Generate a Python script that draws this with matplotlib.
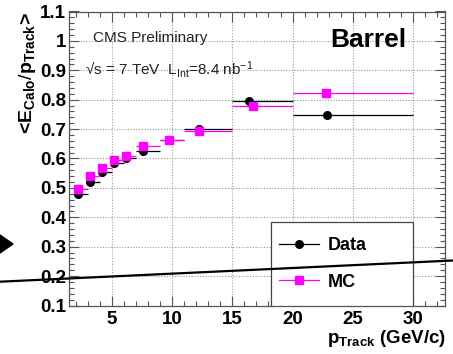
import matplotlib
matplotlib.use("Agg")
import matplotlib.pyplot as plt
from matplotlib.lines import Line2D
from matplotlib.patches import Rectangle, Polygon
from matplotlib.ticker import MultipleLocator
import numpy as np

plt.rcParams['font.family'] = ['Liberation Sans', 'DejaVu Sans']
plt.rcParams['mathtext.fontset'] = 'custom'
plt.rcParams['mathtext.rm'] = 'Liberation Sans'
plt.rcParams['mathtext.bf'] = 'Liberation Sans:bold'
plt.rcParams['mathtext.it'] = 'Liberation Sans:italic'

# Track momentum bins (GeV/c)
bin_lo = [2, 3, 4, 5, 6, 7, 9, 11, 15, 20]
bin_hi = [3, 4, 5, 6, 7, 9, 11, 15, 20, 30]

# Mean track momentum in each bin
data_pt = [2.2, 3.2, 4.2, 5.2, 6.2, 7.6, 9.7, 12.2, 16.4, 22.9]
mc_pt = [2.2, 3.2, 4.2, 5.2, 6.2, 7.6, 9.7, 12.2, 16.7, 22.8]

# <E_Calo / p_Track> response
data_resp = [0.478, 0.521, 0.554, 0.583, 0.603, 0.625, 0.662, 0.700, 0.795, 0.747]
mc_resp = [0.496, 0.540, 0.568, 0.594, 0.610, 0.642, 0.664, 0.695, 0.777, 0.823]
data_err = [0.004, 0.004, 0.004, 0.004, 0.004, 0.005, 0.005, 0.005, 0.006, 0.008]
mc_err = [0.003, 0.003, 0.003, 0.003, 0.003, 0.003, 0.003, 0.004, 0.004, 0.005]

yticks = [0.1, 0.2, 0.3, 0.4, 0.5, 0.6, 0.7, 0.8, 0.9, 1.0, 1.1]
ytick_labels = ["0.1", "0.2", "0.3", "0.4", "0.5", "0.6", "0.7", "0.8", "0.9", "1", "1.1"]
xticks = [5, 10, 15, 20, 25, 30]

W, H = 453, 354
fig = plt.figure(figsize=(W / 100, H / 100), dpi=100)
fig.patch.set_facecolor('white')

left, right, top, bottom = 69, 445, 11.5, 305.5
ax = fig.add_axes([left / W, 1 - bottom / H, (right - left) / W, (bottom - top) / H])

def xerrs(pt):
    return [np.array(pt) - np.array(bin_lo), np.array(bin_hi) - np.array(pt)]

ax.errorbar(data_pt, data_resp, xerr=xerrs(data_pt), yerr=data_err, fmt='o',
            color='black', ms=5.5, elinewidth=0.9, capsize=0, zorder=3)
ax.errorbar(mc_pt, mc_resp, xerr=xerrs(mc_pt), yerr=mc_err, fmt='s',
            color='#ff00ff', ms=6, elinewidth=0.9, capsize=0, zorder=4)

ax.set_xlim(1.43, 32.66)
ax.set_ylim(0.1, 1.1)
ax.set_xticks(xticks)
ax.set_xticklabels([str(v) for v in xticks])
ax.set_yticks(yticks)
ax.set_yticklabels(ytick_labels)
ax.xaxis.set_minor_locator(MultipleLocator(1))
ax.yaxis.set_minor_locator(MultipleLocator(0.02))
ax.tick_params(which='both', direction='in', top=True, right=True, width=0.8, color='#555555')
ax.tick_params(which='major', length=7, labelsize=13.5, pad=2)
ax.tick_params(axis='x', which='major', pad=4)
ax.tick_params(which='minor', length=3.5)
for lab in ax.get_xticklabels() + ax.get_yticklabels():
    lab.set_fontweight('bold')

ax.grid(True, which='major', color='#9a9a9a', linestyle=(0, (1, 1.5)), linewidth=0.8)
ax.set_axisbelow(True)
for sp in ax.spines.values():
    sp.set_color('#555555')
    sp.set_linewidth(0.9)

# Legend box
ax.add_patch(Rectangle((0.537, 0.0), 0.378, 0.284, transform=ax.transAxes,
                       facecolor='white', edgecolor='#444444', lw=0.9, zorder=5))
handles = [Line2D([], [], color='black', marker='o', ms=5.5, lw=0.9),
           Line2D([], [], color='#ff00ff', marker='s', ms=6, lw=0.9)]
leg = ax.legend(handles, ['Data', 'MC'], loc='center left',
                bbox_to_anchor=(0.525, 0.142), frameon=False,
                prop={'weight': 'bold', 'size': 13}, handlelength=2.2,
                handletextpad=0.5, labelspacing=1.1, borderpad=0.2)
leg.set_zorder(6)

ax.text(93 / W, 1 - 38 / H, 'CMS Preliminary', transform=fig.transFigure,
        fontsize=11, va='center', ha='left', color='#222222')
ax.text(85 / W, 1 - 70 / H, '\u221as = 7 TeV  L$_{\\mathrm{Int}}$=8.4 nb$^{-1}$',
        transform=fig.transFigure, fontsize=11, va='center', ha='left', color='#222222')
ax.text(368 / W, 1 - 40 / H, 'Barrel', transform=fig.transFigure, fontsize=19,
        fontweight='bold', va='center', ha='center')

fig.text(446 / W, 1 - 343 / H, r'$\mathbf{p}_{\mathbf{Track}}$ (GeV/c)', fontsize=13.5,
         fontweight='bold', ha='right', va='baseline')
fig.text(28 / W, 1 - 73 / H, r'<$\mathbf{E}_{\mathbf{Calo}}/\mathbf{p}_{\mathbf{Track}}$>',
         fontsize=14, fontweight='bold', rotation=90, ha='center', va='center')

# Pointer line and arrowhead drawn over the figure
fig.add_artist(Line2D([0, 1], [1 - 281.7 / H, 1 - 260.5 / H], transform=fig.transFigure,
                      color='black', lw=1.6, zorder=20))
fig.add_artist(Polygon([(0, 1 - 235 / H), (0, 1 - 253 / H), (13 / W, 1 - 244 / H)],
                       closed=True, transform=fig.transFigure, facecolor='black',
                       edgecolor='black', zorder=20))

fig.savefig('out.png', dpi=100)
